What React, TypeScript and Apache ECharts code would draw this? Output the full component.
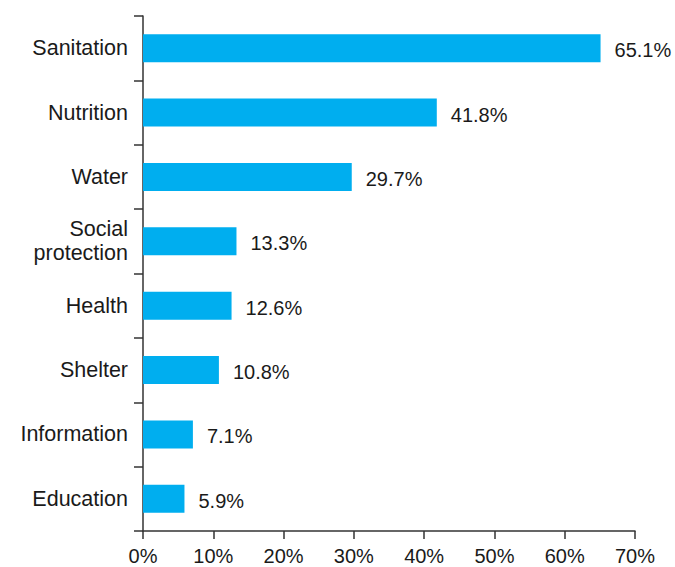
import React, { useEffect, useRef } from "react";
import * as echarts from "echarts";

const categories = ["Sanitation", "Nutrition", "Water", "Social\nprotection", "Health", "Shelter", "Information", "Education"];
const values = [65.1, 41.8, 29.7, 13.3, 12.6, 10.8, 7.1, 5.9];
const xTicks = { min: 0, max: 70, interval: 10 };

export default function App() {
  const ref = useRef<HTMLDivElement>(null);
  useEffect(() => {
    if (!ref.current) return;
    const chart = echarts.init(ref.current, null, { renderer: "svg" });
    const font = "'Liberation Sans', Arial, Helvetica, sans-serif";
    const axisColor = "#333333";
    const textColor = "#1a1a1a";
    chart.setOption({
      animation: false,
      textStyle: { fontFamily: font },
      grid: { left: 143, right: 40, top: 16, bottom: 36, containLabel: false },
      xAxis: {
        type: "value",
        min: xTicks.min,
        max: xTicks.max,
        interval: xTicks.interval,
        splitLine: { show: false },
        axisLine: { show: true, lineStyle: { color: axisColor, width: 1.5 } },
        axisTick: { show: true, length: 8, lineStyle: { color: axisColor, width: 1.5 } },
        axisLabel: { formatter: "{value}%", color: textColor, fontSize: 20, margin: 15, fontFamily: font },
      },
      yAxis: {
        type: "category",
        data: categories,
        inverse: true,
        axisLine: { show: true, lineStyle: { color: axisColor, width: 1.5 } },
        axisTick: { show: true, length: 9, lineStyle: { color: axisColor, width: 1.5 } },
        axisLabel: { color: textColor, fontSize: 21.5, margin: 15, lineHeight: 24, align: "right", fontFamily: font },
      },
      series: [
        {
          type: "bar",
          data: values,
          barWidth: 28,
          itemStyle: { color: "#00AEEF" },
          label: {
            show: true,
            position: "right",
            distance: 14,
            color: textColor,
            fontSize: 20,
            fontFamily: font,
            offset: [0, 2],
            formatter: (p: any) => Number(p.value).toFixed(1) + "%",
          },
        },
      ],
    });
    return () => chart.dispose();
  }, []);
  return <div ref={ref} style={{ position: "fixed", left: 0, top: 0, width: 675, height: 567, background: "#fff" }} />;
}
